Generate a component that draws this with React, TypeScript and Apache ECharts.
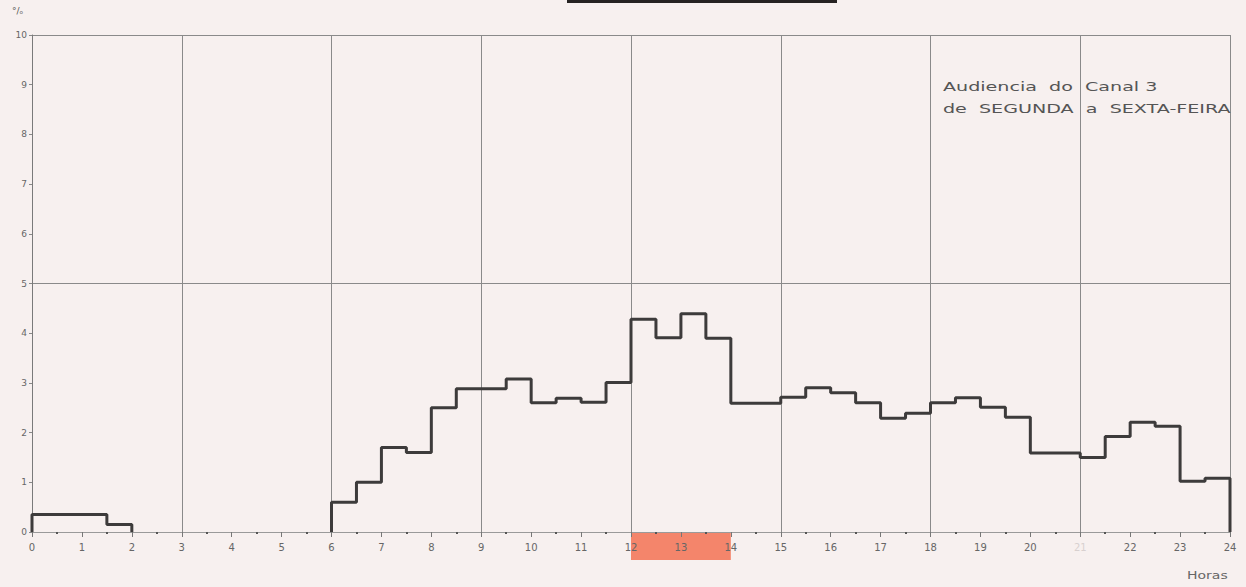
import React, { useEffect, useRef } from "react";
import * as echarts from "echarts";

// Half-hour slot start times (hours)
const slotStarts = [
  0, 0.5, 1, 1.5, 2, 2.5, 3, 3.5, 4, 4.5, 5, 5.5,
  6, 6.5, 7, 7.5, 8, 8.5, 9, 9.5, 10, 10.5, 11, 11.5,
  12, 12.5, 13, 13.5, 14, 14.5, 15, 15.5, 16, 16.5, 17, 17.5,
  18, 18.5, 19, 19.5, 20, 20.5, 21, 21.5, 22, 22.5, 23, 23.5,
];
// Audience (%) per half hour; null = no broadcast
const audience: (number | null)[] = [
  0.35, 0.35, 0.35, 0.15, null, null, null, null, null, null, null, null,
  0.6, 1.0, 1.7, 1.6, 2.5, 2.88, 2.88, 3.08, 2.6, 2.69, 2.61, 3.01,
  4.28, 3.91, 4.39, 3.9, 2.59, 2.59, 2.71, 2.9, 2.8, 2.6, 2.29, 2.39,
  2.6, 2.7, 2.51, 2.31, 1.59, 1.59, 1.5, 1.92, 2.21, 2.13, 1.02, 1.08,
];
const slotLength = 0.5;
const percentTicks = [0, 1, 2, 3, 4, 5, 6, 7, 8, 9, 10];
const titleLines = ["Audiencia  do  Canal 3", "de  SEGUNDA  a  SEXTA-FEIRA"];
const highlightFrom = 12;
const highlightTo = 14;

function buildRuns(): number[][][] {
  const runs: number[][][] = [];
  let cur: number[][] | null = null;
  for (let i = 0; i < slotStarts.length; i++) {
    const v = audience[i];
    const x = slotStarts[i];
    if (v == null) {
      if (cur) {
        cur.push([x, 0]);
        runs.push(cur);
        cur = null;
      }
      continue;
    }
    if (!cur) cur = [[x, 0]];
    cur.push([x, v]);
    cur.push([x + slotLength, v]);
  }
  if (cur) {
    cur.push([slotStarts[slotStarts.length - 1] + slotLength, 0]);
    runs.push(cur);
  }
  return runs;
}

export default function App() {
  const ref = useRef<HTMLDivElement>(null);
  useEffect(() => {
    if (!ref.current) return;
    const chart = echarts.init(ref.current, undefined, { renderer: "svg" });
    const runs = buildRuns();
    const gridColor = "#8a8a8a";
    chart.setOption({
      animation: false,
      backgroundColor: "#f7f0ef",
      grid: { left: 32, right: 16, top: 35, bottom: 55 },
      xAxis: [
        {
          type: "value",
          min: 0,
          max: 24,
          interval: 1,
          axisLine: { show: true, lineStyle: { color: "#9a9a9a", width: 1 } },
          axisTick: { show: true, length: 5, lineStyle: { color: "#777" } },
          minorTick: { show: true, splitNumber: 2, length: 2, lineStyle: { color: "#555", width: 2 } },
          splitLine: { show: false },
          axisLabel: {
            margin: 10,
            fontSize: 10,
            color: "#666",
            fontFamily: "DejaVu Sans",
            formatter: (v: number) => (v === 21 ? "{f|21}" : String(v)),
            rich: { f: { color: "#d8d0cf", fontSize: 10, fontFamily: "DejaVu Sans" } },
          },
        },
        {
          type: "value",
          min: 0,
          max: 24,
          interval: 3,
          position: "bottom",
          axisLine: { show: false },
          axisTick: { show: false },
          axisLabel: { show: false },
          splitLine: { show: true, lineStyle: { color: gridColor, width: 1 } },
        },
      ],
      yAxis: [
        {
          type: "value",
          min: 0,
          max: 10,
          interval: 1,
          axisLine: { show: true, lineStyle: { color: "#7a7a7a", width: 1 } },
          axisTick: { show: true, length: 3, lineStyle: { color: "#888" } },
          splitLine: { show: false },
          axisLabel: {
            margin: 5,
            fontSize: 9,
            color: "#666",
            fontFamily: "DejaVu Sans",
            formatter: (v: number) => (percentTicks.includes(v) ? String(v) : ""),
          },
        },
        {
          type: "value",
          min: 0,
          max: 10,
          interval: 5,
          position: "left",
          axisLine: { show: false },
          axisTick: { show: false },
          axisLabel: { show: false },
          splitLine: { show: true, lineStyle: { color: gridColor, width: 1 } },
        },
      ],
      series: runs.map((data, i) => ({
        name: "Audiencia " + (i + 1),
        type: "line",
        xAxisIndex: 0,
        yAxisIndex: 0,
        data,
        showSymbol: false,
        symbol: "none",
        lineStyle: { color: "#3d3b3b", width: 3 },
        z: 5,
      })),
    });

    const x0 = chart.convertToPixel({ xAxisIndex: 0 }, highlightFrom) as number;
    const x1 = chart.convertToPixel({ xAxisIndex: 0 }, highlightTo) as number;
    const yBase = chart.convertToPixel({ yAxisIndex: 0 }, 0) as number;

    chart.setOption({
      graphic: [
        {
          type: "rect",
          z: -10,
          shape: { x: x0, y: yBase, width: x1 - x0, height: 28 },
          style: { fill: "#f4856b" },
        },
        {
          type: "rect",
          shape: { x: 567, y: 0, width: 270, height: 3 },
          style: { fill: "#262222" },
        },
        {
          type: "text",
          x: 943,
          y: 76,
          scaleX: 1.47,
          style: {
            text: titleLines.join("\n"),
            font: "13px 'DejaVu Sans'",
            lineHeight: 22,
            fill: "#555",
            verticalAlign: "top",
          },
        },
        {
          type: "text",
          x: 1187,
          y: 571,
          scaleX: 1.4,
          style: { text: "Horas", font: "10px 'DejaVu Sans'", fill: "#666", verticalAlign: "top" },
        },
        {
          type: "text",
          x: 12,
          y: 6,
          style: { text: "°/ₒ", font: "9px 'DejaVu Sans'", fill: "#555", verticalAlign: "top" },
        },
      ],
    });

    return () => chart.dispose();
  }, []);
  return (
    <div
      ref={ref}
      style={{ position: "absolute", left: 0, top: 0, width: 1246, height: 587 }}
    />
  );
}
